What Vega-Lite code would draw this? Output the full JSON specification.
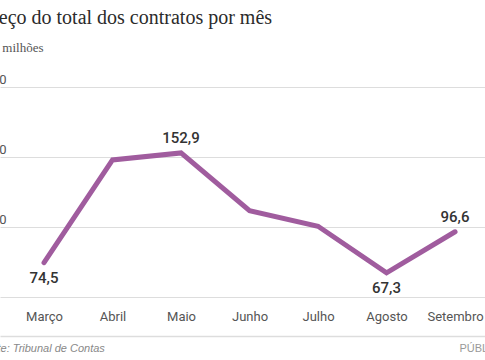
{
  "$schema": "https://vega.github.io/schema/vega-lite/v6.json",
  "width": 485,
  "height": 210,
  "autosize": "none",
  "padding": {"left": 0, "top": 87, "right": 0, "bottom": 63},
  "background": "white",
  "title": {
    "text": "Preço do total dos contratos por mês",
    "subtitle": "Em milhões",
    "anchor": "start",
    "frame": "group",
    "dx": -19,
    "offset": 18,
    "font": "Liberation Serif",
    "fontSize": 20,
    "fontWeight": "normal",
    "color": "#2b2b2b",
    "subtitleFont": "Liberation Serif",
    "subtitleFontSize": 13,
    "subtitleColor": "#555555",
    "subtitlePadding": 14
  },
  "config": {
    "view": {"stroke": null},
    "locale": {
      "number": {"decimal": ",", "thousands": ".", "grouping": [3], "currency": ["", " €"]}
    }
  },
  "data": {
    "values": [
      {"mes": "Março", "valor": 74.5},
      {"mes": "Abril", "valor": 147.9},
      {"mes": "Maio", "valor": 152.9},
      {"mes": "Junho", "valor": 111.6},
      {"mes": "Julho", "valor": 100.5},
      {"mes": "Agosto", "valor": 67.3},
      {"mes": "Setembro", "valor": 96.6}
    ]
  },
  "resolve": {"axis": {"y": "independent"}},
  "layer": [
    {
      "mark": {"type": "line", "color": "#a05c9e", "strokeWidth": 5, "strokeCap": "round", "strokeJoin": "miter"},
      "encoding": {
        "x": {
          "field": "mes", "type": "ordinal", "sort": null,
          "scale": {"type": "point", "padding": 0.54, "align": 0.595},
          "axis": {
            "title": "Fonte: Tribunal de Contas",
            "titleX": -22, "titleY": 12, "titleAlign": "left", "titleBaseline": "middle",
            "titleFont": "Liberation Sans", "titleFontStyle": "italic", "titleFontSize": 11,
            "titleFontWeight": "normal", "titleColor": "#888888",
            "labelAngle": 0, "ticks": false, "tickSize": 0, "offset": 39,
            "domainColor": "#dddddd", "domainWidth": 1.5,
            "labelPadding": -20, "labelBaseline": "middle",
            "labelFont": "Roboto", "labelFontSize": 13, "labelColor": "#555555",
            "grid": false
          }
        },
        "y": {
          "field": "valor", "type": "quantitative",
          "scale": {"domain": [50, 200], "zero": false, "nice": false},
          "axis": {
            "values": [50, 100, 150, 200],
            "title": null, "domain": false, "ticks": false, "tickSize": 0,
            "labelAlign": "right", "labelBaseline": "alphabetic",
            "labelPadding": -6, "labelOffset": -4,
            "labelExpr": "datum.value == 50 ? '' : datum.label",
            "labelFont": "Roboto", "labelFontSize": 13, "labelColor": "#555555",
            "grid": true, "gridColor": "#dddddd", "gridWidth": 1.2
          }
        }
      }
    },
    {
      "transform": [{"filter": "datum.mes == 'Maio' || datum.mes == 'Setembro'"}],
      "mark": {"type": "text", "dy": -15, "font": "Roboto", "fontSize": 15, "fontWeight": 500, "color": "#333333"},
      "encoding": {
        "x": {"field": "mes", "type": "ordinal", "sort": null},
        "y": {
          "field": "valor", "type": "quantitative",
          "axis": {
            "orient": "right", "labels": false, "ticks": false, "domain": false, "grid": false,
            "title": "PÚBLICO", "titleAngle": 0, "titleX": -26, "titleY": 261,
            "titleAlign": "left", "titleBaseline": "middle",
            "titleFont": "Liberation Sans", "titleFontSize": 11, "titleFontWeight": "normal",
            "titleColor": "#999999"
          }
        },
        "text": {"field": "valor", "type": "quantitative", "format": ".1f"}
      }
    },
    {
      "transform": [{"filter": "datum.mes == 'Março' || datum.mes == 'Agosto'"}],
      "mark": {"type": "text", "dy": 15, "font": "Roboto", "fontSize": 15, "fontWeight": 500, "color": "#333333"},
      "encoding": {
        "x": {"field": "mes", "type": "ordinal", "sort": null},
        "y": {"field": "valor", "type": "quantitative", "axis": null},
        "text": {"field": "valor", "type": "quantitative", "format": ".1f"}
      }
    }
  ]
}
